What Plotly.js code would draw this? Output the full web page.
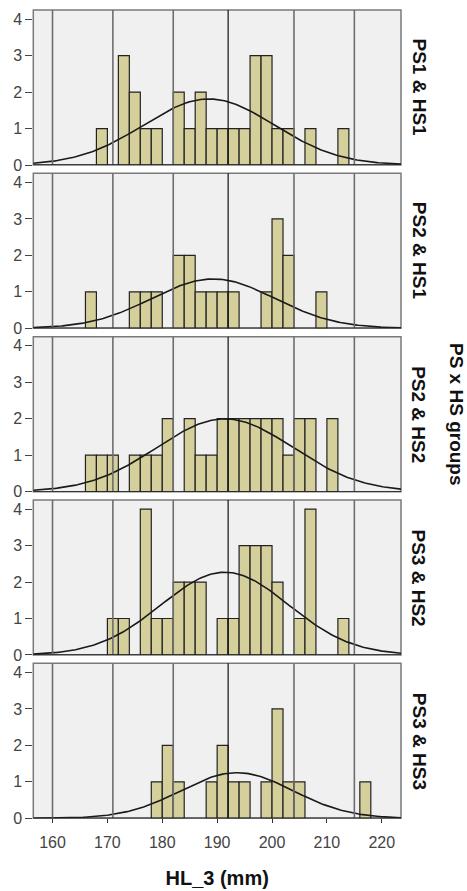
<!DOCTYPE html>
<html>
<head>
<meta charset="utf-8">
<script src="https://cdn.plot.ly/plotly-3.0.1.min.js"></script>
<style>html,body{margin:0;padding:0;background:#fff;}#chart{width:467px;height:891px;}</style>
</head>
<body>
<div id="chart"></div>
<script>
// Group labels (top to bottom)
const groups = ["PS1 & HS1", "PS2 & HS1", "PS2 & HS2", "PS3 & HS2", "PS3 & HS3"];
// Histogram bins: left edges (mm), bin width 2
const binsPS1HS1 = [168, 172, 174, 176, 178, 182, 184, 186, 188, 190, 192, 194, 196, 198, 200, 202, 206, 212];
const countsPS1HS1 = [1, 3, 2, 1, 1, 2, 1, 2, 1, 1, 1, 1, 3, 3, 1, 1, 1, 1];
const binsPS2HS1 = [166, 174, 176, 178, 182, 184, 186, 188, 190, 192, 198, 200, 202, 208];
const countsPS2HS1 = [1, 1, 1, 1, 2, 2, 1, 1, 1, 1, 1, 3, 2, 1];
const binsPS2HS2 = [166, 168, 170, 174, 176, 178, 180, 184, 186, 188, 190, 192, 194, 196, 198, 200, 202, 204, 206, 210];
const countsPS2HS2 = [1, 1, 1, 1, 1, 1, 2, 2, 1, 1, 2, 2, 2, 2, 2, 2, 1, 2, 2, 2];
const binsPS3HS2 = [170, 172, 176, 178, 180, 182, 184, 186, 190, 192, 194, 196, 198, 200, 204, 206, 212];
const countsPS3HS2 = [1, 1, 4, 1, 1, 2, 2, 2, 1, 1, 3, 3, 3, 2, 1, 4, 1];
const binsPS3HS3 = [178, 180, 182, 188, 190, 192, 194, 198, 200, 202, 204, 216];
const countsPS3HS3 = [1, 2, 1, 1, 2, 1, 1, 1, 3, 1, 1, 1];
// Fitted normal curve parameters
const means = [188.5, 189.3, 191.4, 191.4, 193.6];
const sds = [11.9, 11.2, 12.4, 11.6, 10.2];
// Axis ticks and reference lines
const xTicks = [160, 170, 180, 190, 200, 210, 220];
const yTicks = [0, 1, 2, 3, 4];
const refLines = [160, 171, 182, 192, 204, 215];

const bins = [binsPS1HS1, binsPS2HS1, binsPS2HS2, binsPS3HS2, binsPS3HS3];
const counts = [countsPS1HS1, countsPS2HS1, countsPS2HS2, countsPS3HS2, countsPS3HS3];
const binWidth = 2;
const xRange = [156.5, 223.5];
const yRange = [0, 4.25];

const H = 891, W = 467;
const traces = [];
const shapes = [];
const annotations = [];
const layout = {
  width: W, height: H,
  margin: {l: 0, r: 0, t: 0, b: 0},
  paper_bgcolor: '#ffffff',
  plot_bgcolor: 'rgba(0,0,0,0)',
  showlegend: false,
  bargap: 0,
  font: {family: 'Liberation Sans, Arial, sans-serif', color: '#444'},
};

const xl = 33.3 / W, xr = 401 / W;
for (let i = 0; i < 5; i++) {
  const top = 10 + 163.33 * i;
  const bot = top + 155;
  const ax = i === 0 ? '' : String(i + 1);
  const yname = 'y' + ax;
  const xname = 'x' + ax;
  const isBottom = i === 4;
  layout['xaxis' + ax] = {
    domain: [xl, xr], range: xRange, anchor: yname,
    tickvals: xTicks, ticktext: xTicks.map(String),
    showticklabels: isBottom, ticks: isBottom ? 'outside' : '', ticklen: 4, tickcolor: '#333',
    ticklabelstandoff: 5,
    showgrid: false, zeroline: false, showline: false,
    tickfont: {size: 16, color: '#444'},
    title: isBottom ? {text: '<b>HL_3 (mm)</b>', font: {size: 20, color: '#111'}, standoff: 21} : {text: ''},
    matches: i === 0 ? undefined : 'x',
  };
  layout['yaxis' + ax] = {
    domain: [(H - bot) / H, (H - top) / H], range: yRange, anchor: xname,
    tickvals: yTicks, ticktext: yTicks.map(String),
    ticks: 'outside', ticklen: 7, tickcolor: '#444', tickwidth: 1,
    showgrid: false, zeroline: false, showline: false,
    tickfont: {size: 16, color: '#444'},
  };
  // background + frame
  shapes.push({type: 'rect', xref: xname + ' domain', yref: yname + ' domain', x0: 0, x1: 1, y0: 0, y1: 1,
    fillcolor: '#f0f0f0', line: {color: '#7a7a7a', width: 1.5}, layer: 'below'});
  // reference lines
  refLines.forEach((v) => {
    const dark = v === 192;
    shapes.push({type: 'line', xref: xname, yref: yname + ' domain', x0: v, x1: v, y0: 0, y1: 1,
      line: {color: dark ? '#111' : '#6e6e6e', width: dark ? 1.2 : 1.6}, layer: 'above'});
  });
  // baseline
  shapes.push({type: 'line', xref: xname + ' domain', yref: yname, x0: 0, x1: 1, y0: 0, y1: 0,
    line: {color: '#222', width: 1.5}, layer: 'above'});
  // histogram bars
  traces.push({
    type: 'bar', x: bins[i], y: counts[i], xaxis: xname, yaxis: yname,
    offset: 0, width: bins[i].map(() => binWidth),
    marker: {color: '#d4cf9b', line: {color: '#222', width: 1.2}},
    hoverinfo: 'x+y',
  });
  // normal curve
  const n = counts[i].reduce((a, b) => a + b, 0);
  const cx = [], cy = [];
  for (let k = 0; k <= 200; k++) {
    const x = xRange[0] + (xRange[1] - xRange[0]) * k / 200;
    const z = (x - means[i]) / sds[i];
    cx.push(x);
    cy.push(n * binWidth * Math.exp(-0.5 * z * z) / (sds[i] * Math.sqrt(2 * Math.PI)));
  }
  traces.push({type: 'scatter', mode: 'lines', x: cx, y: cy, xaxis: xname, yaxis: yname,
    line: {color: '#1a1a1a', width: 1.6}, hoverinfo: 'skip'});
  // panel label
  annotations.push({text: '<b>' + groups[i].replace('&', '&amp;') + '</b>', xref: 'paper', yref: 'paper',
    x: 419 / W, y: (H - (top + bot) / 2) / H, xanchor: 'center', yanchor: 'middle',
    textangle: 90, showarrow: false, font: {size: 19, color: '#111'}});
}
annotations.push({text: '<b>PS x HS groups</b>', xref: 'paper', yref: 'paper',
  x: 457 / W, y: (H - 414) / H, xanchor: 'center', yanchor: 'middle',
  textangle: 90, showarrow: false, font: {size: 19, color: '#111'}});

layout.shapes = shapes;
layout.annotations = annotations;
Plotly.newPlot('chart', traces, layout, {displayModeBar: false, staticPlot: true});
</script>
</body>
</html>
